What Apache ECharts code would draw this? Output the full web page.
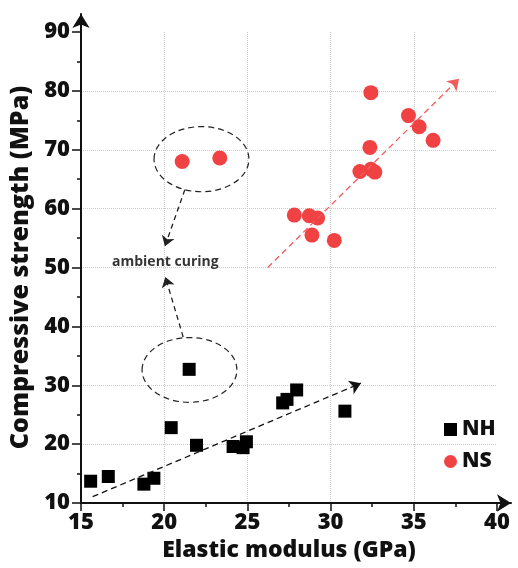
<!DOCTYPE html>
<html>
<head>
<meta charset="utf-8">
<script src="https://cdn.jsdelivr.net/npm/echarts@6/dist/echarts.min.js"></script>
<style>html,body{margin:0;padding:0;background:#fff;}#c{width:518px;height:568px;}</style>
</head>
<body>
<div id="c"></div>
<script>
// ---- data ----
const nhX = [15.58, 16.64, 18.78, 19.38, 20.42, 21.5, 21.94, 24.14, 24.74, 24.94, 27.12, 27.38, 27.96, 30.86];
const nhY = [13.7, 14.5, 13.2, 14.2, 22.8, 32.7, 19.8, 19.6, 19.4, 20.4, 27.0, 27.6, 29.2, 25.6];
const nsX = [21.08, 23.34, 27.82, 28.72, 29.22, 28.88, 30.22, 31.76, 32.42, 32.66, 32.36, 32.42, 34.68, 35.32, 36.16];
const nsY = [68.0, 68.6, 58.9, 58.8, 58.4, 55.5, 54.6, 66.3, 66.7, 66.2, 70.4, 79.7, 75.8, 73.9, 71.6];
const seriesNames = ['NH', 'NS'];
const xAxisName = 'Elastic modulus (GPa)';
const yAxisName = 'Compressive strength (MPa)';
const xRange = [15, 40, 5];
const yRange = [10, 90, 10];
// trend arrows [x1, y1, x2, y2]
const nhTrend = [15.7, 11.07, 31.82, 30.35];
const nsTrend = [26.22, 50.0, 37.72, 82.05];
// annotation ellipses [cx, cy, rx, ry]
const ellipses = [[22.24, 68.4, 2.85, 5.53], [21.52, 32.6, 2.85, 5.5]];
// annotation arrows [x1, y1, x2, y2]
const annArrows = [[21.24, 63.2, 20.04, 53.6], [21.14, 38.2, 20.07, 48.4]];
const annText = 'ambient curing';
const annTextPos = [20.07, 50.9];

const FONT = 'Open Sans';
const WEIGHT = 800;
const RED = '#F04242';

const zip = (a, b) => a.map((v, i) => [v, b[i]]);
const seg = (s, color, dash, size) => [
  { coord: [s[0], s[1]], lineStyle: { color: color, width: 1.3, type: dash }, symbolSize: size },
  { coord: [s[2], s[3]], symbolSize: size }
];

const chart = echarts.init(document.getElementById('c'), null, { renderer: 'canvas' });
chart.setOption({
  animation: false,
  backgroundColor: '#fff',
  grid: [
    { left: 81, right: 21, top: 32, bottom: 65 },
    { left: 81, right: 7, top: 14, bottom: 65 }
  ],
  legend: {
    data: [{ name: seriesNames[0], icon: 'rect' }, { name: seriesNames[1], icon: 'circle' }],
    orient: 'vertical', left: 444, top: 419, padding: 0,
    itemWidth: 13, itemHeight: 13, itemGap: 11,
    textStyle: { fontFamily: FONT, fontWeight: WEIGHT, fontSize: 21, color: '#111' }
  },
  xAxis: [
    {
      gridIndex: 0, type: 'value', min: xRange[0], max: xRange[1], interval: xRange[2],
      name: xAxisName, nameLocation: 'middle', nameGap: 30,
      nameTextStyle: { fontFamily: FONT, fontWeight: WEIGHT, fontSize: 23, color: '#111' },
      axisLine: { show: false },
      axisTick: { show: true, length: 8, lineStyle: { color: '#111', width: 1.5 } },
      minorTick: { show: true, splitNumber: 2, length: 4, lineStyle: { color: '#111', width: 1.5 } },
      axisLabel: { margin: 9, fontFamily: FONT, fontWeight: WEIGHT, fontSize: 22, color: '#111' },
      splitLine: { show: true, showMinLine: false, showMaxLine: false, lineStyle: { color: '#cccccc', type: 'dotted', width: 1 } }
    },
    {
      gridIndex: 1, type: 'value', min: 0, max: 1,
      axisLine: { show: true, onZero: false, symbol: ['none', 'arrow'], symbolSize: [13, 14], lineStyle: { color: '#111', width: 2 } },
      axisTick: { show: false }, axisLabel: { show: false }, splitLine: { show: false }
    }
  ],
  yAxis: [
    {
      gridIndex: 0, type: 'value', min: yRange[0], max: yRange[1], interval: yRange[2],
      name: yAxisName, nameLocation: 'middle', nameGap: 46,
      nameTextStyle: { fontFamily: FONT, fontWeight: WEIGHT, fontSize: 25, color: '#111' },
      axisLine: { show: false },
      axisTick: { show: true, length: 9, lineStyle: { color: '#111', width: 1.5 } },
      minorTick: { show: true, splitNumber: 2, length: 4, lineStyle: { color: '#111', width: 1.5 } },
      axisLabel: { margin: 11, fontFamily: FONT, fontWeight: WEIGHT, fontSize: 22, color: '#111' },
      splitLine: { show: true, showMinLine: false, showMaxLine: false, lineStyle: { color: '#cccccc', type: 'dotted', width: 1 } }
    },
    {
      gridIndex: 1, type: 'value', min: 0, max: 1,
      axisLine: { show: true, onZero: false, symbol: ['none', 'arrow'], symbolSize: [13, 14], lineStyle: { color: '#111', width: 2 } },
      axisTick: { show: false }, axisLabel: { show: false }, splitLine: { show: false }
    }
  ],
  series: [
    {
      name: 'annotations', type: 'line', data: [], silent: true, z: 1,
      markLine: {
        silent: true, animation: false,
        symbol: ['none', 'arrow'],
        label: { show: false },
        emphasis: { disabled: true },
        data: [
          seg(nhTrend, '#111', [6, 4], 11),
          seg(nsTrend, '#F25C5C', [6, 4], 11),
          seg(annArrows[0], '#222', [5, 4], 10),
          seg(annArrows[1], '#222', [5, 4], 10)
        ]
      }
    },
    {
      name: 'ellipses', type: 'custom', silent: true, z: 1,
      data: ellipses,
      encode: { x: 0, y: 1 },
      renderItem: function (params, api) {
        const c = api.coord([api.value(0), api.value(1)]);
        const s = api.size([api.value(2), api.value(3)]);
        return {
          type: 'ellipse',
          shape: { cx: c[0], cy: c[1], rx: s[0], ry: s[1] },
          style: { fill: 'none', stroke: '#222', lineWidth: 1.2, lineDash: [6, 4] }
        };
      }
    },
    {
      name: 'label', type: 'scatter', silent: true, symbolSize: 0,
      data: [annTextPos],
      label: { show: true, position: 'inside', formatter: annText, fontFamily: FONT, fontWeight: 700, fontSize: 14, color: '#000' }
    },
    {
      name: seriesNames[0], type: 'scatter', symbol: 'rect', symbolSize: 13, z: 3,
      itemStyle: { color: '#000', opacity: 1 },
      data: zip(nhX, nhY)
    },
    {
      name: seriesNames[1], type: 'scatter', symbol: 'circle', symbolSize: 15, z: 3,
      itemStyle: { color: RED, opacity: 1 },
      data: zip(nsX, nsY)
    }
  ]
});
</script>
</body>
</html>
